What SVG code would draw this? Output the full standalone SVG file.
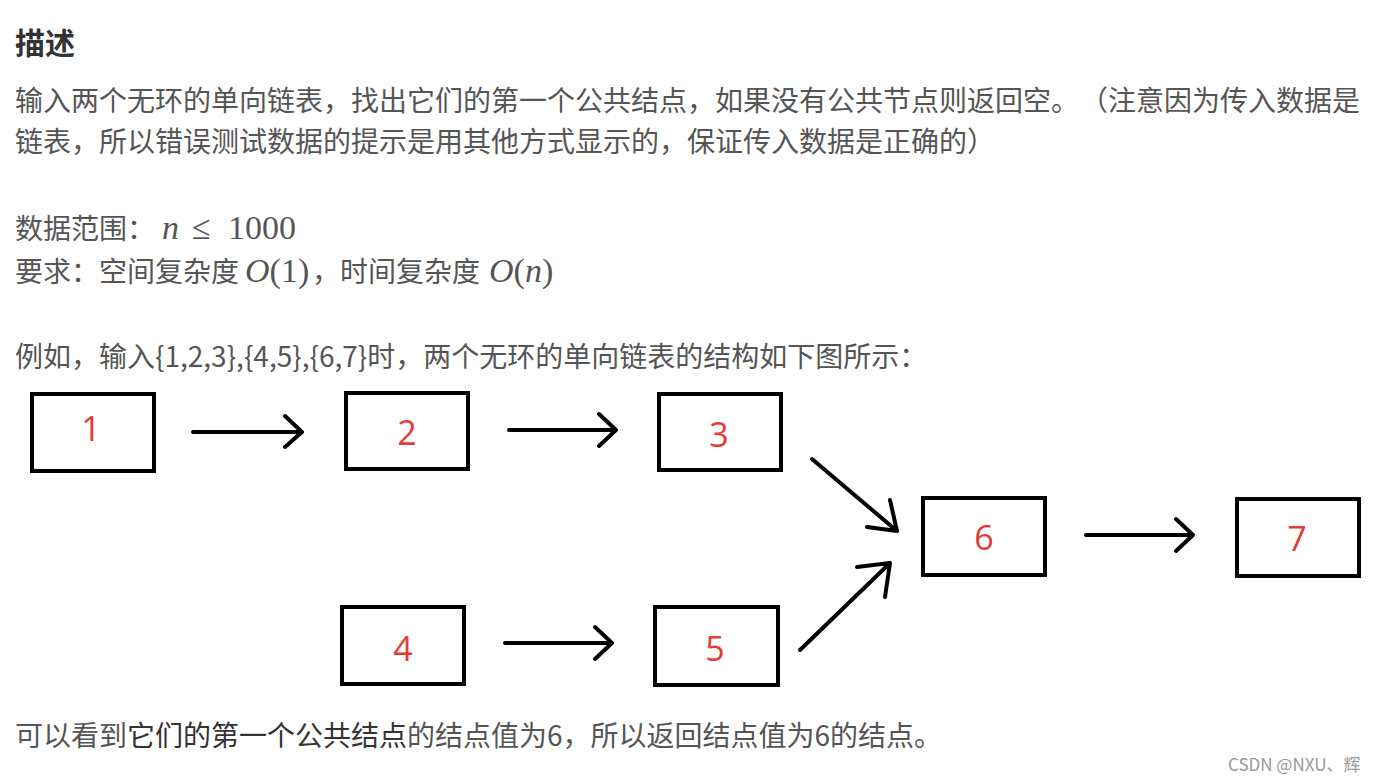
<svg xmlns="http://www.w3.org/2000/svg" width="1390" height="784" viewBox="0 0 1390 784">
<style>
.t{font-family:"Noto Sans CJK SC","Noto Sans",sans-serif;font-size:28px;fill:#555}
.h{font-family:"Noto Sans CJK SC","Noto Sans",sans-serif;font-size:30px;font-weight:bold;fill:#333}
.m{font-family:"Liberation Serif","DejaVu Serif",serif;font-size:34px;fill:#555}
.box{fill:#fff;stroke:#000;stroke-width:4}
.num{font-family:"Open Sans","Noto Sans",sans-serif;font-size:34px;fill:#e53b35;text-anchor:middle}
.c{fill:none;stroke:#000;stroke-width:4;stroke-linecap:round;stroke-linejoin:round}
.wm{font-family:"Noto Sans CJK SC","Liberation Sans",sans-serif;font-size:17px;fill:#999}
</style>
<rect width="1390" height="784" fill="#fff"/>
<text class="h" x="15" y="54">描述</text>
<text class="t" x="15" y="111">输入两个无环的单向链表，找出它们的第一个公共结点，如果没有公共节点则返回空。</text>
<text class="t" x="1080" y="111">（注意因为传入数据是</text>
<text class="t" x="15" y="152">链表，所以错误测试数据的提示是用其他方式显示的，保证传入数据是正确的）</text>
<text class="t" x="15" y="239">数据范围：</text>
<text class="m" x="162" y="239"><tspan font-style="italic">n</tspan><tspan x="192">≤</tspan><tspan x="228">1000</tspan></text>
<text class="t" x="15" y="282">要求：空间复杂度</text>
<text class="m" x="245" y="282"><tspan font-style="italic">O</tspan>(1)</text>
<text class="t" x="312" y="282">，时间复杂度</text>
<text class="m" x="489" y="282"><tspan font-style="italic">O</tspan>(<tspan font-style="italic">n</tspan>)</text>
<text class="t" x="15" y="367">例如，输入{1,2,3},{4,5},{6,7}时，两个无环的单向链表的结构如下图所示：</text>
<g id="node1"><rect class="box" x="32" y="394" width="122" height="77"/><text class="num" x="91" y="441">1</text></g>
<g id="node2"><rect class="box" x="346" y="393" width="122" height="76"/><text class="num" x="407" y="445">2</text></g>
<g id="node3"><rect class="box" x="659" y="394" width="122" height="76"/><text class="num" x="719" y="447">3</text></g>
<g id="node6"><rect class="box" x="923" y="498" width="122" height="77"/><text class="num" x="984" y="550">6</text></g>
<g id="node7"><rect class="box" x="1237" y="499" width="122" height="77"/><text class="num" x="1297" y="551">7</text></g>
<g id="node4"><rect class="box" x="342" y="607" width="122" height="77"/><text class="num" x="403" y="661">4</text></g>
<g id="node5"><rect class="box" x="655" y="607" width="123" height="78"/><text class="num" x="715" y="661">5</text></g>
<g id="connectors">
<path class="c" d="M193,432 H302 M285,416 L302,432 L285,447"/>
<path class="c" d="M509,430 H616 M599,414 L616,430 L599,446"/>
<path class="c" d="M505,643 H612 M595,627 L612,643 L595,659"/>
<path class="c" d="M1086,535 H1193 M1176,519 L1193,535 L1176,551"/>
<path class="c" d="M812,459 L897,531 M890,500 L897,531 L867,527"/>
<path class="c" d="M800,650 L890,563 M857,567 L890,563 L885,597"/>
</g>
<text class="t" x="15" y="746">可以看到<tspan fill="#333">它们的第一个公共结点</tspan>的结点值为6，所以返回结点值为6的结点。</text>
<text class="wm" x="1228" y="771">CSDN @NXU、辉</text>
</svg>
